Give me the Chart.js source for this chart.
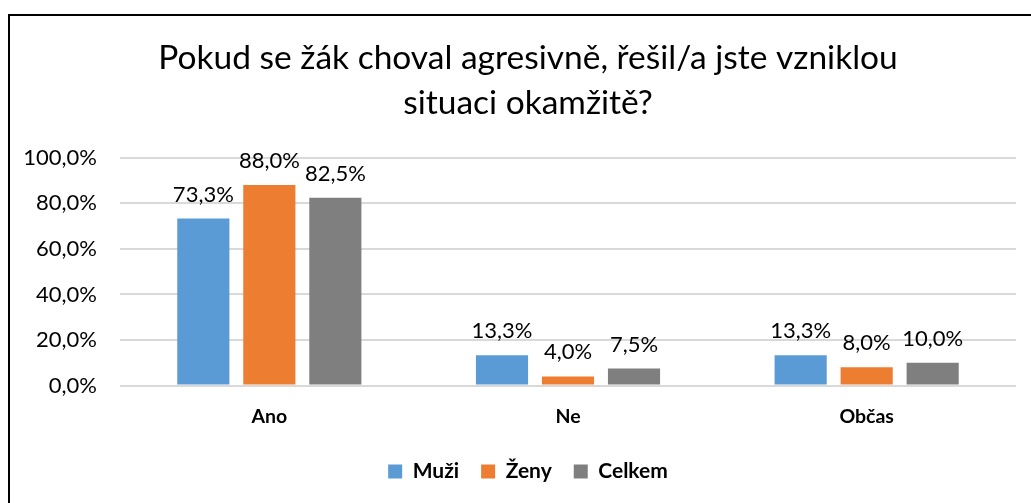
<!DOCTYPE html>
<html>
<head>
<meta charset="utf-8">
<script src="https://cdn.jsdelivr.net/npm/chart.js@4"></script>
<style>
	html, body { margin: 0; padding: 0; background: #fff; overflow: hidden; }
	#wrap { position: absolute; left: 0; top: 0; width: 1056px; height: 503px; }
	#frame { position: absolute; left: 8px; top: 14px; width: 2000px; height: 2000px;
		border-left: 2px solid #000; border-top: 2px solid #000; pointer-events: none; }
</style>
</head>
<body>
<div id="wrap"><canvas id="agrese"></canvas></div>
<div id="frame"></div>
<script>
var categories = [ 'Ano', 'Ne', 'Občas' ];
var muzi = [ 73.3, 13.3, 13.3 ];
var zeny = [ 88.0, 4.0, 8.0 ];
var celkem = [ 82.5, 7.5, 10.0 ];
var yTicks = [ 0, 20, 40, 60, 80, 100 ];

var FONT = 'Lato, "Liberation Sans", sans-serif';

function pct(v) {
	return v.toFixed(1).replace('.', ',') + '%';
}

// popisky hodnot nad sloupci
var valueLabels = {
	id : 'valueLabels',
	afterLayout : function(c) {
		// popisky osy y presahuji levy okraj, at se neorezavaji
		c.scales.y.left = 0;
	},
	afterDatasetsDraw : function(c) {
		var ctx = c.ctx;
		ctx.save();
		ctx.font = '22px ' + FONT;
		ctx.fillStyle = '#000';
		ctx.textAlign = 'center';
		ctx.textBaseline = 'alphabetic';
		c.data.datasets.forEach(function(ds, i) {
			c.getDatasetMeta(i).data.forEach(function(bar, j) {
				ctx.fillText(pct(ds.data[j]), bar.x, bar.y - 17);
			});
		});
		ctx.restore();
	}
};

var chartObj = new Chart(document.getElementById('agrese').getContext('2d'), {
	type : 'bar',
	data : {
		labels : categories,
		datasets : [ {
			label : 'Muži',
			data : muzi,
			backgroundColor : '#5B9BD5'
		}, {
			label : 'Ženy',
			data : zeny,
			backgroundColor : '#ED7D31'
		}, {
			label : 'Celkem',
			data : celkem,
			backgroundColor : '#7F7F7F'
		} ]
	},
	options : {
		responsive : true,
		maintainAspectRatio : false,
		animation : false,
		categoryPercentage : 0.663,
		barPercentage : 0.79,
		layout : {
			padding : { top : 36, left : 40, right : 40, bottom : 11 }
		},
		plugins : {
			title : {
				display : true,
				text : [ 'Pokud se žák choval agresivně, řešil/a jste vzniklou', 'situaci okamžitě?' ],
				color : '#000',
				font : { family : FONT, size : 33.5, weight : 'normal', lineHeight : 1.34 },
				padding : { top : 0, bottom : 32 }
			},
			legend : {
				position : 'bottom',
				labels : {
					color : '#000',
					font : { family : FONT, size : 21, weight : 'bold' },
					boxWidth : 14,
					boxHeight : 14,
					padding : 22
				}
			},
			tooltip : { enabled : false }
		},
		scales : {
			x : {
				grid : { display : false },
				border : { display : false },
				ticks : {
					color : '#000',
					font : { family : FONT, size : 19.5, weight : 'bold' },
					padding : 11
				}
			},
			y : {
				min : 0,
				max : 100,
				afterFit : function(scale) { scale.width = 80; },
				afterBuildTicks : function(scale) {
					scale.ticks = yTicks.map(function(v) { return { value : v }; });
				},
				border : { display : false },
				grid : { color : '#D9D9D9', lineWidth : 2, drawTicks : false },
				ticks : {
					color : '#000',
					font : { family : FONT, size : 22 },
					padding : 23,
					callback : function(v) { return pct(v); }
				}
			}
		}
	},
	plugins : [ valueLabels ]
});
</script>
</body>
</html>
